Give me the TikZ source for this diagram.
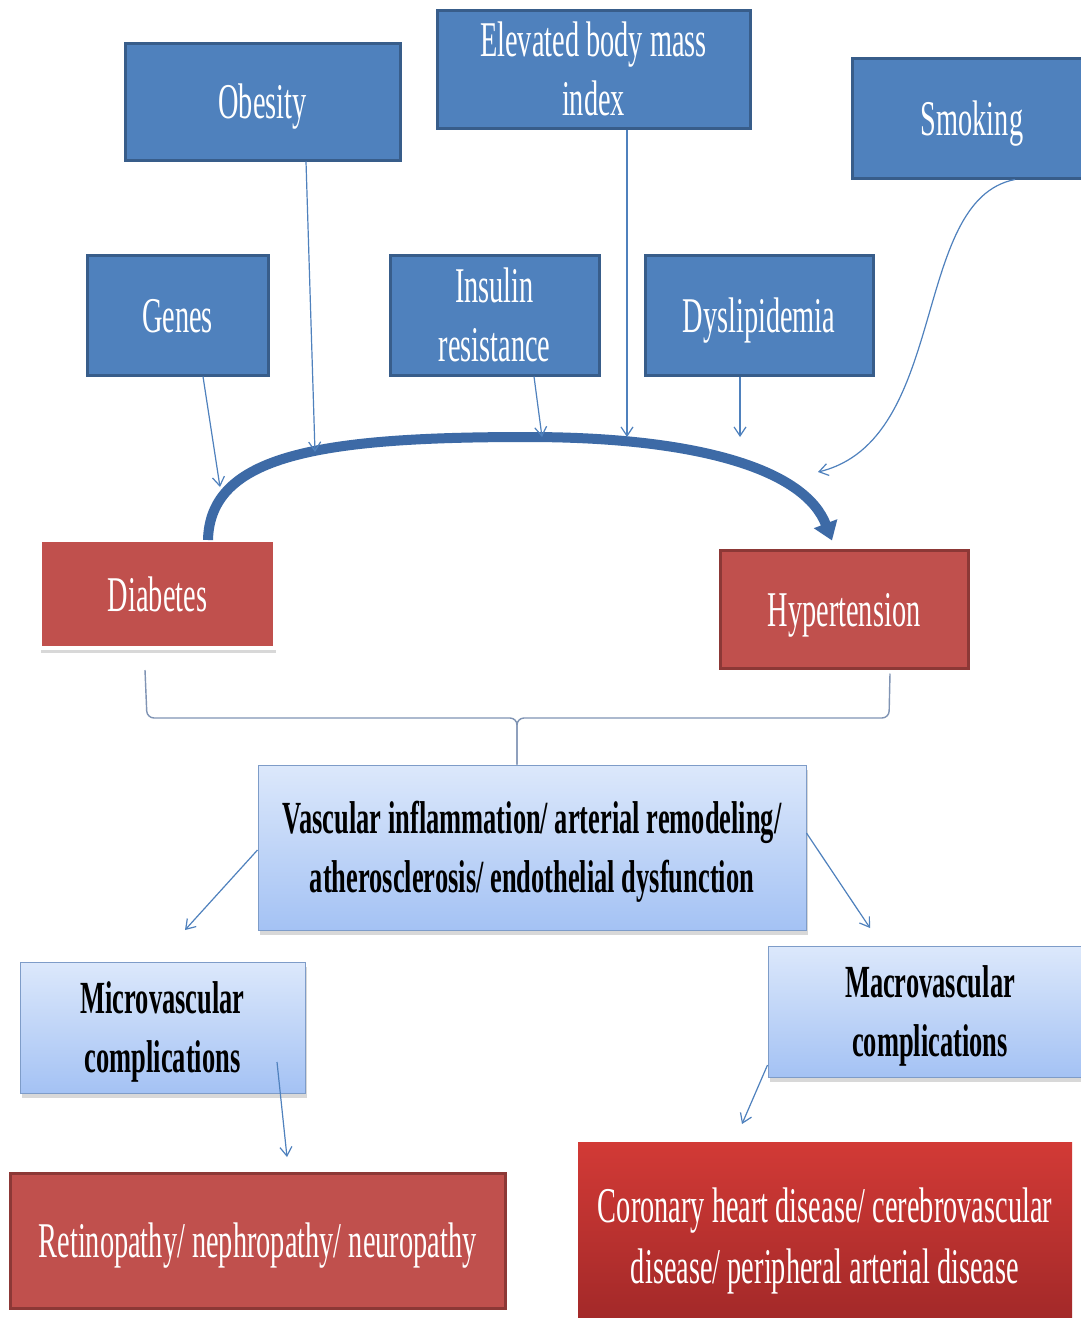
\documentclass[tikz,border=0pt]{standalone}
\usepackage{fontspec}
\setmainfont{Liberation Serif}
\newfontfamily\condfont{Liberation Serif}[FakeStretch=0.567]
\newfontfamily\condbold{Liberation Serif Bold}[FakeStretch=0.575]
\usetikzlibrary{arrows.meta,shadows,calc}

% line struts: fixed height/depth so every line is centred on its capitals
\newcommand\lnst{\rule[-11.5pt]{0pt}{57pt}}
\newcommand\lnstb{\rule[-12.75pt]{0pt}{56pt}}
\newcommand\lnstc{\rule[-13pt]{0pt}{60pt}}

\definecolor{boxblue}{RGB}{79,129,189}
\definecolor{boxedge}{RGB}{56,93,138}
\definecolor{boxred}{RGB}{192,80,77}
\definecolor{rededge}{RGB}{140,56,54}
\definecolor{lighttop}{RGB}{220,232,251}
\definecolor{lightbot}{RGB}{164,194,244}
\definecolor{lightedge}{RGB}{126,156,200}
\definecolor{cortop}{RGB}{210,58,54}
\definecolor{corbot}{RGB}{160,40,40}
\definecolor{arcblue}{RGB}{61,106,166}
\definecolor{linkblue}{RGB}{79,129,189}
\definecolor{bracecol}{RGB}{128,148,180}

\begin{document}
\begin{tikzpicture}[x=1pt,y=-1pt,
  base/.style={align=center, inner sep=0pt, anchor=center},
  riskbox/.style={base, draw=boxedge, line width=3pt, fill=boxblue, text=white,
    font=\condfont\fontsize{50}{57}\selectfont, execute at begin node=\lnst},
  risktwo/.style={base, draw=boxedge, line width=3pt, fill=boxblue, text=white,
    font=\condfont\fontsize{50}{59}\selectfont},
  redbox/.style={base, draw=rededge, line width=3pt, fill=boxred, text=white,
    font=\condfont\fontsize{50}{57}\selectfont, execute at begin node=\lnst},
  lightbox/.style={base, draw=lightedge, line width=1pt, top color=lighttop,
    bottom color=lightbot, text=black,
    font=\condbold\fontsize{46}{59}\selectfont,
    drop shadow={opacity=0.3, shadow xshift=2pt, shadow yshift=-5pt}},
  link/.style={draw=linkblue, line width=1.2pt,
    -{Straight Barb[length=9pt,width=12pt]}},
  brace/.style={draw=bracecol, line width=1.4pt, rounded corners=7pt},
]
\useasboundingbox[fill=white] (0,0) rectangle (1081,1318);

% risk factors
\node[riskbox, minimum width=275, minimum height=117] (obesity) at (262.5,101.5) {Obesity};
\node[risktwo, minimum width=313, minimum height=118] (ebmi) at (593.5,69) {\lnst Elevated body mass\\index\lnst};
\node[riskbox, minimum width=240, minimum height=120] (smoking) at (972,118) {Smoking};
\node[riskbox, minimum width=181, minimum height=120] (genes) at (177.5,315) {Genes};
\node[risktwo, minimum width=209, minimum height=120] (insulin) at (494.5,315) {\lnst Insulin\\resistance\lnst};
\node[riskbox, minimum width=228, minimum height=120] (dyslip) at (759,315) {Dyslipidemia};

% the two conditions and the curved arrow linking them
\node[redbox, draw=white, line width=4pt, minimum width=235, minimum height=108,
  drop shadow={opacity=0.3, shadow xshift=1pt, shadow yshift=-5pt}] (diabetes) at (157.5,594) {Diabetes};
\node[redbox, minimum width=248, minimum height=118] (hyper) at (844,609) {Hypertension};

\draw[line width=10pt, draw=arcblue, -{Triangle[length=18pt,width=24pt]}]
  ([xshift=50.5pt,yshift=-2pt]diabetes.north)
  .. controls (210,455) and (320,437) .. (527,437)
  .. controls (700,437) and (805,470) .. ([xshift=-12pt,yshift=8pt]hyper.north);

% risk factor arrows
\coordinate (tGenes) at (220,487);
\coordinate (tObes) at (315,452);
\coordinate (tIns) at (542,437);
\coordinate (tBmi) at (627,437);
\coordinate (tDys) at (740,437);
\coordinate (tSmk) at (818,472);
\draw[link] ([xshift=25.5pt]genes.south) -- (tGenes);
\draw[link] ([xshift=43.5pt]obesity.south) -- (tObes);
\draw[link] ([xshift=39.5pt]insulin.south) -- (tIns);
\draw[link] ([xshift=33.5pt]ebmi.south) -- (tBmi);
\draw[link] ([xshift=-19pt]dyslip.south) -- (tDys);
\draw[link] ([xshift=43pt]smoking.south) .. controls (910,200) and (950,440) .. (tSmk);

% mechanisms
\node[lightbox, minimum width=548, minimum height=165] (vasc) at (532,847.5)
  {\lnstb Vascular inflammation/ arterial remodeling/\\atherosclerosis/ endothelial dysfunction\lnstb};

% brace joining both conditions to the mechanisms box
\coordinate (bj) at (517,718);
\draw[brace] ([xshift=-12.5pt,yshift=-20pt]diabetes.south) -- (147,718) -- (bj) -- ([xshift=-15pt]vasc.north);
\draw[brace] ([xshift=46pt,yshift=-4pt]hyper.south) -- (889,718) -- (bj) -- ([xshift=-15pt]vasc.north);

% complications
\node[lightbox, minimum width=285, minimum height=131] (micro) at (162.5,1027.5)
  {\lnstb Microvascular\\complications\lnstb};
\node[lightbox, minimum width=324, minimum height=131] (macro) at (930,1011.5)
  {\lnstb Macrovascular\\complications\lnstb};
\node[redbox, minimum width=495, minimum height=135] (retino) at (257.5,1240.5)
  {Retinopathy/ nephropathy/ neuropathy};
\node[base, minimum width=494, minimum height=188, top color=cortop, bottom color=corbot,
  text=white, font=\condfont\fontsize{50}{61}\selectfont] (coronary) at (825,1236)
  {\lnstc Coronary heart disease/ cerebrovascular\\disease/ peripheral arterial disease\lnstc};

\coordinate (tMicro) at (185,930);
\coordinate (tMacro) at (870,928);
\coordinate (tRet) at (287,1157);
\coordinate (tCor) at (742,1124);
\draw[link] ([yshift=-2.5pt]vasc.west) -- (tMicro);
\draw[link] ([yshift=14.5pt]vasc.east) -- (tMacro);
\draw[link] ([xshift=114.5pt,yshift=-34.5pt]micro.center) -- (tRet);
\draw[link] ([yshift=-53.5pt]macro.west) -- (tCor);
\end{tikzpicture}
\end{document}
